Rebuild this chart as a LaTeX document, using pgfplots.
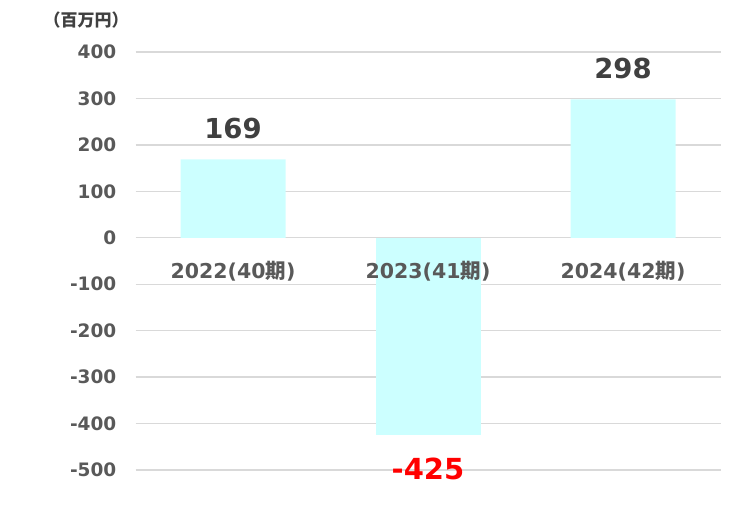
\documentclass[border=0pt]{standalone}
\usepackage{fontspec}
\setmainfont{DejaVu Sans}
\newfontfamily\cjk{Noto Sans CJK JP}
\usepackage{pgfplots}
\pgfplotsset{compat=1.18}
\definecolor{barcol}{HTML}{CCFFFF}
\definecolor{gridcol}{HTML}{D9D9D9}
\definecolor{tickcol}{HTML}{595959}
\definecolor{labcol}{HTML}{404040}
\begin{document}
\begin{tikzpicture}[x=1pt,y=1pt]
\begin{axis}[
  set layers=standard,
  at={(135.5pt,55pt)}, anchor=south west,
  scale only axis, width=585pt, height=418pt,
  xmin=-0.5, xmax=2.5, ymin=-500, ymax=400,
  ytick={-500,-400,...,400},
  xtick={0,1,2},
  xticklabels={2022(40{\cjk\bfseries 期}),2023(41{\cjk\bfseries 期}),2024(42{\cjk\bfseries 期})},
  axis x line=middle, axis y line=left,
  axis line style={draw=none,-},
  hide obscured x ticks=false, hide obscured y ticks=false,
  major tick length=0pt,
  ymajorgrids, grid style={draw=gridcol, line width=1.3pt},
  /pgf/number format/assume math mode=true,
  yticklabel style={font=\fontsize{18.5}{20}\selectfont\bfseries, text=tickcol, inner sep=0pt, anchor=east, xshift=-19pt},
  xticklabel style={/pgfplots/on layer=axis foreground, font=\fontsize{20.5}{22}\selectfont\bfseries, text=tickcol, inner sep=0pt, anchor=center, yshift=-33pt},
  ybar=0pt, bar width=105pt,
]
\addplot[fill=barcol, draw=none, bar shift=0pt,
  nodes near coords,
  every node near coord/.style={anchor=center, yshift=31pt, inner sep=0pt, text=labcol, font=\fontsize{27.5}{30}\selectfont\bfseries},
  /pgf/number format/assume math mode=true]
  coordinates {(0,169) (2,298)};
\addplot[fill=barcol, draw=none, bar shift=0pt,
  nodes near coords,
  every node near coord/.style={anchor=center, yshift=-34pt, inner sep=0pt, text=red, font=\fontsize{29}{31}\selectfont\bfseries},
  /pgf/number format/assume math mode=true]
  coordinates {(1,-425)};
\end{axis}
\node[text=labcol, font=\cjk\bfseries\fontsize{17}{19}\selectfont] at (86,505) {（百万円）};
\pgfresetboundingbox
\path[use as bounding box] (0,0) rectangle (745,525);
\end{tikzpicture}
\end{document}
